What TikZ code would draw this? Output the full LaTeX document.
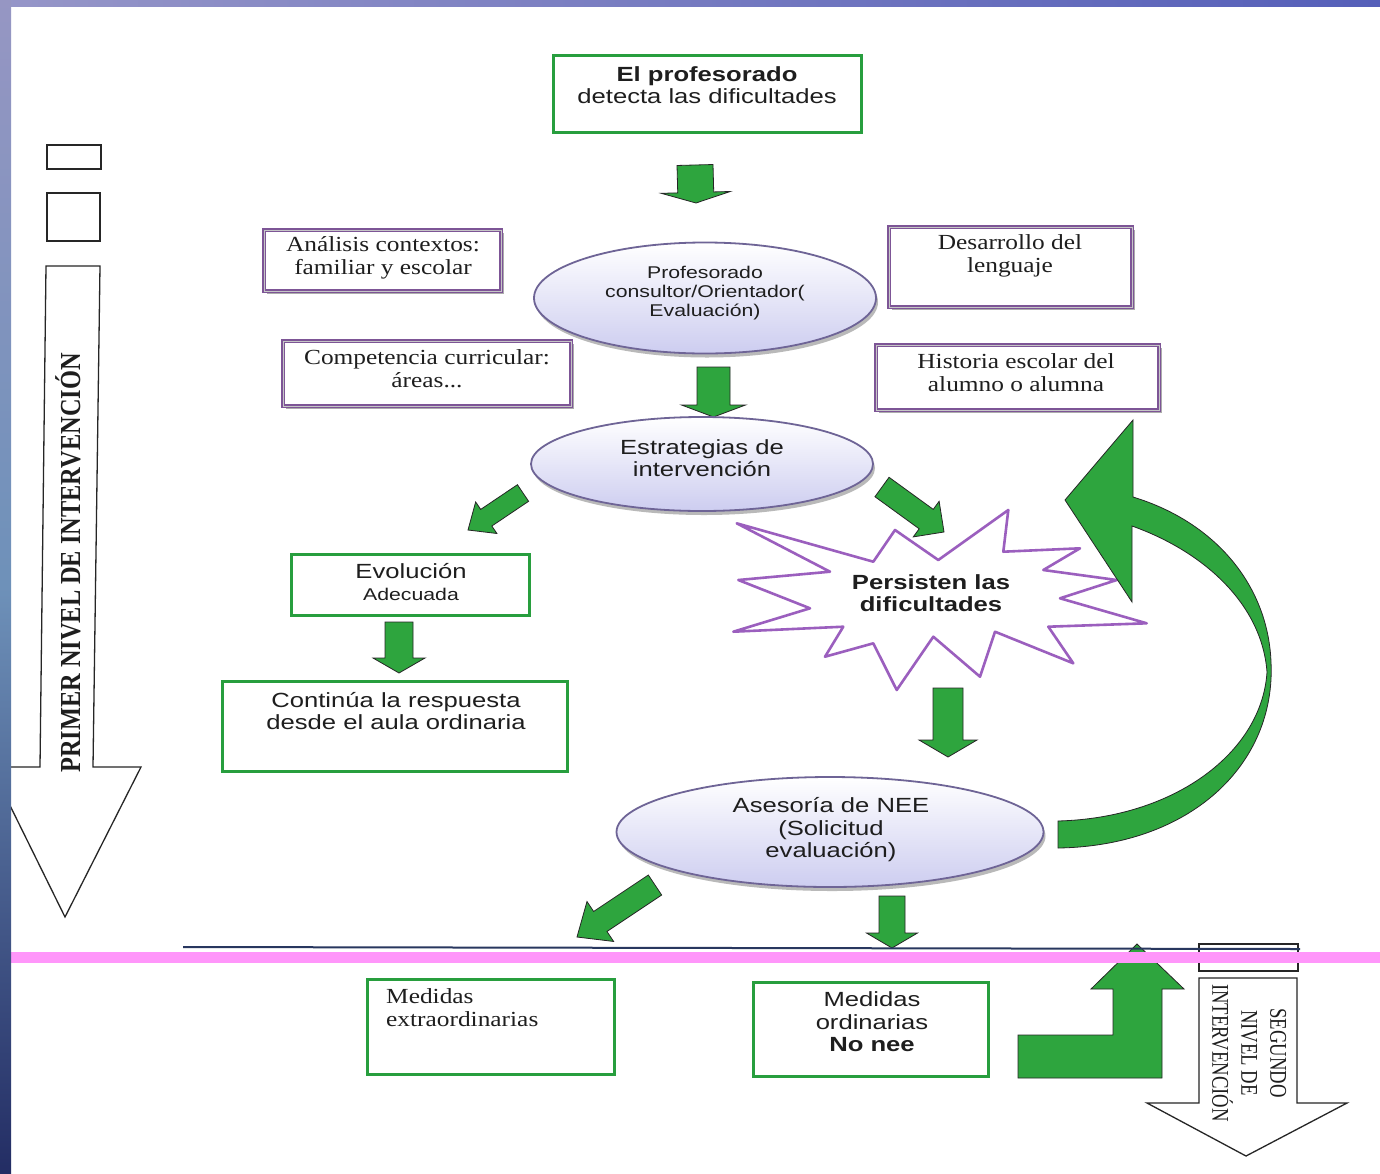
\documentclass[tikz,border=0pt]{standalone}
\usepackage{fontspec}
\setmainfont{Liberation Serif}
\newfontfamily\sansW{Liberation Sans}[FakeStretch=1.25]
\newfontfamily\serifW{Liberation Serif}[FakeStretch=1.18]
\newfontfamily\serifN{Liberation Serif}[FakeStretch=0.78]
\newfontfamily\serifP{Liberation Serif}[FakeStretch=0.84]
\usetikzlibrary{shapes.geometric,calc,shadows}
\definecolor{gfill}{RGB}{46,165,62}
\definecolor{gline}{RGB}{40,158,62}
\definecolor{pline}{RGB}{125,85,150}
\definecolor{lav}{RGB}{205,205,240}
\definecolor{elline}{RGB}{110,100,150}
\definecolor{starline}{RGB}{155,95,190}
\definecolor{pinkband}{RGB}{255,150,250}
\definecolor{navyline}{RGB}{40,55,95}
\definecolor{txt}{RGB}{30,30,30}
\tikzset{
  gbox/.style={rectangle, draw=gline, line width=3.5pt, fill=white, inner sep=0pt},
  pbox/.style={rectangle, draw=pline, line width=1.2pt, double=gray!45, double distance=0.8pt, fill=white, inner sep=0pt,
     drop shadow={shadow xshift=2.5pt, shadow yshift=-2.5pt, fill=gray!65, opacity=1}},
  ell/.style={ellipse, draw=elline, line width=1.8pt, top color=white, bottom color=lav, inner sep=0pt,
     drop shadow={shadow xshift=2pt, shadow yshift=-4pt, fill=gray!55, opacity=1}},
  garrow/.style={fill=gfill, draw=black!85, line width=0.8pt, line join=miter},
  wharrow/.style={fill=white, draw=black!85, line width=1.3pt},
  tsans/.style={font=\sansW\fontsize{20.5}{22.5}\selectfont, align=center, inner sep=0pt, text=txt},
  tserif/.style={font=\serifW\fontsize{21.5}{23}\selectfont, align=center, inner sep=0pt, text=txt},
}
\newcommand{\garr}[5]{%
 \coordinate (ga-h) at ($(#2)!#5pt!(#1)$);
 \path[garrow] ($(#1)!#3pt!90:(#2)$) -- ($(ga-h)!#3pt!90:(#2)$) -- ($(ga-h)!#4pt!90:(#2)$) -- (#2)
   -- ($(ga-h)!#4pt!-90:(#2)$) -- ($(ga-h)!#3pt!-90:(#2)$) -- ($(#1)!#3pt!-90:(#2)$) -- cycle;}
\begin{document}
\begin{tikzpicture}[x=1pt,y=-1pt]
\useasboundingbox (0,0) rectangle (1380,1173);
% background
\fill[white] (0,0) rectangle (1380,1173);
\fill[left color={rgb,255:red,150;green,150;blue,200}, right color={rgb,255:red,85;green,95;blue,185}] (0,0) rectangle (1380,6);

% left level arrow
\draw[wharrow] (47,145) rectangle (101,169);
\draw[wharrow] (47,193) rectangle (100,241);
\path[wharrow] (46,266) -- (100,266) -- (93,767) -- (141,767) -- (65,917) -- (-9,767) -- (40,767) -- cycle;
\node[font=\serifP\bfseries\fontsize{29}{31}\selectfont, rotate=90, inner sep=0pt, text=txt] (primer) at (68,563) {PRIMER NIVEL DE INTERVENCIÓN};

% top box
\node[gbox, minimum width=308pt, minimum height=77pt] (top) at (707.5,94) {};
\node[tsans] (topT) at (707,85) {\textbf{El profesorado}\\detecta las dificultades};
\garr{695,165}{696,203}{18}{34.5}{10.6}

% side boxes
\node[pbox, minimum width=237pt, minimum height=61pt] (anB) at (382.5,260.5) {};
\node[tserif] (anT) at (383,258) {Análisis contextos:\\familiar y escolar};
\node[pbox, minimum width=243pt, minimum height=80pt] (deB) at (1010.5,267) {};
\node[tserif] (deT) at (1010,256) {Desarrollo del\\lenguaje};
\node[pbox, minimum width=288pt, minimum height=65pt] (coB) at (427,373.5) {};
\node[tserif] (coT) at (427,369) {Competencia curricular:\\áreas...};
\node[pbox, minimum width=283pt, minimum height=65pt] (hiB) at (1017.5,377.5) {};
\node[tserif] (hiT) at (1016,373) {Historia escolar del\\alumno o alumna};

% ellipse 1
\node[ell, minimum width=342pt, minimum height=111pt] (e1) at (705,298) {};
\node[tsans, font=\sansW\fontsize{17}{19}\selectfont] (e1T) at (705,293) {Profesorado\\consultor/Orientador(\\Evaluación)};
\garr{713.5,367}{713.5,417}{16.5}{32}{12}

% ellipse 2
\node[ell, minimum width=342pt, minimum height=94pt] (e2) at (702,464) {};
\node[tsans] (e2T) at (702,458) {Estrategias de\\intervención};
\garr{523,493}{468,530}{10}{19}{22}
\garr{882,487}{944,532}{12}{22}{22}

% left branch
\node[gbox, minimum width=238pt, minimum height=61pt] (evB) at (410.5,585) {};
\node[tsans] (evT) at (411,582) {Evolución\\{\fontsize{17}{19}\selectfont Adecuada}};
\garr{399,622}{399,673}{14}{26}{15}
\node[gbox, minimum width=345pt, minimum height=90pt] (cnB) at (395,726.5) {};
\node[tsans] (cnT) at (396,711) {Continúa la respuesta\\desde el aula ordinaria};

% star
\draw[starline, line width=2.6pt, fill=white, line join=round]
 (736.7,523.3) -- (873.3,561.7) -- (895,530) -- (938.3,560) -- (1008.3,510) -- (1003.3,551.7)
 -- (1080,548.3) -- (1043.3,570) -- (1116.7,580) -- (1060,598.3) -- (1146.7,623.3) -- (1048.3,626.7)
 -- (1073.3,663.3) -- (995,631.7) -- (980,676.7) -- (933.3,636.7) -- (896.7,690) -- (873.3,643.3)
 -- (825,656.7) -- (843.3,626.7) -- (733.3,631.7) -- (810,608.3) -- (738.3,580) -- (830,571.7) -- cycle;
\node[tsans, font=\sansW\bfseries\fontsize{20.5}{22.5}\selectfont] (stT) at (931,593) {Persisten las\\dificultades};
\garr{948,688}{948,757}{15}{29}{17}

% curved return arrow
\path[garrow] (1058,821) .. controls (1175,818) and (1262,752) .. (1267,672)
  .. controls (1262,605) and (1205,552) .. (1132,526) -- (1132,602) -- (1065,500) -- (1133,420) -- (1133,497)
  .. controls (1215,522) and (1268,585) .. (1271,662)
  .. controls (1276,765) and (1190,846) .. (1058,848) -- cycle;

% ellipse 3
\node[ell, minimum width=427pt, minimum height=110pt] (e3) at (830,832) {};
\node[tsans] (asT) at (831,830) {Asesoría de NEE\\(Solicitud\\evaluación)};
\garr{655,885}{577,937}{12}{24}{28}
\garr{892,896}{892,948}{13}{25.5}{15}

% second level
\path[garrow] (1018,1035) -- (1113,1035) -- (1113,989) -- (1091,989) -- (1137,944) -- (1184,989)
  -- (1162,989) -- (1162,1078) -- (1018,1078) -- cycle;
\draw[wharrow] (1199,944) rectangle (1298,971);
\path[wharrow] (1199,978) -- (1297,978) -- (1297,1103) -- (1347,1103) -- (1246,1156) -- (1147,1103) -- (1199,1103) -- cycle;
\node[font=\serifN\fontsize{24}{29}\selectfont, rotate=-90, align=center, inner sep=0pt, text=txt] (segundo) at (1249,1053) {SEGUNDO\\NIVEL DE\\INTERVENCIÓN};

\draw[navyline, line width=2pt] (183,947) -- (1300,949);
\fill[pinkband] (11,952) rectangle (1380,963);

% bottom boxes
\node[gbox, minimum width=247pt, minimum height=95pt] (meB) at (491,1027) {};
\node[tserif, align=left, anchor=west] (meT) at (386,1008) {Medidas\\extraordinarias};
\node[gbox, minimum width=235pt, minimum height=94pt] (moB) at (871,1029.5) {};
\node[tsans] (moT) at (872,1022) {Medidas\\ordinarias\\\textbf{No nee}};

% left blue strip
\fill[top color={rgb,255:red,150;green,150;blue,195}, bottom color={rgb,255:red,35;green,45;blue,100}, middle color={rgb,255:red,110;green,145;blue,185}] (0,0) rectangle (11,1173);
\end{tikzpicture}
\end{document}
